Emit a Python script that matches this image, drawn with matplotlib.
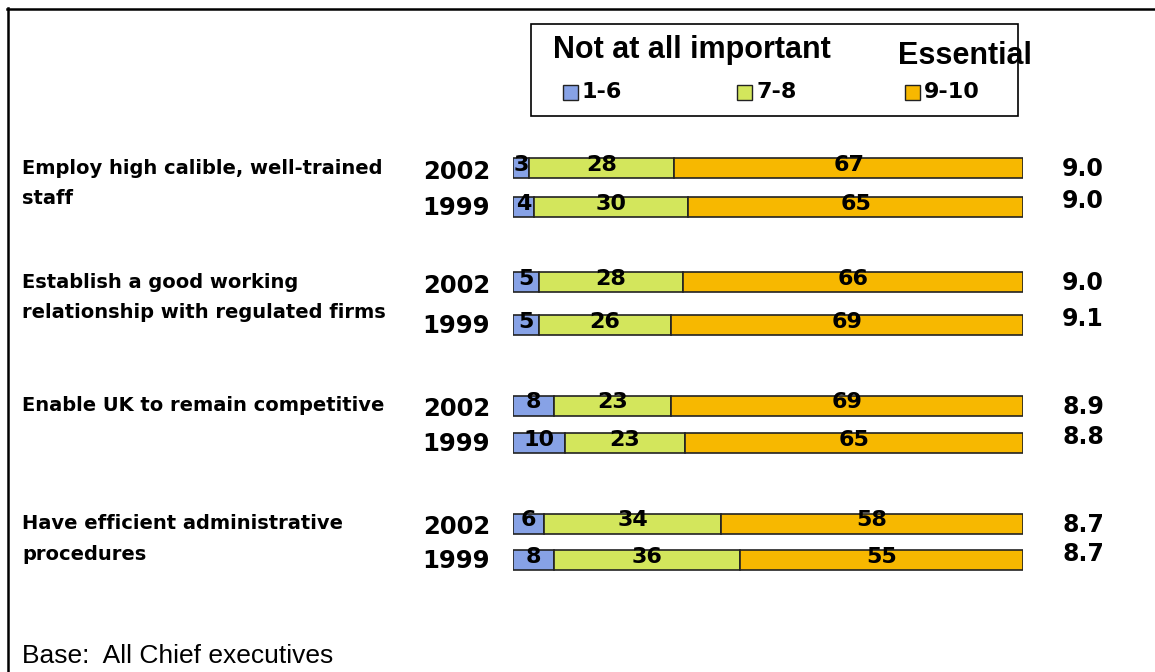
import matplotlib.pyplot as plt
from matplotlib.patches import Rectangle
from matplotlib.lines import Line2D

plt.rcParams['font.family'] = ['Liberation Sans', 'DejaVu Sans']
WIDE = ['DejaVu Sans']  # wider bold face for the spaced-out labels

# survey data: share of chief executives giving each importance score
categories = [
    "Employ high calible, well-trained\nstaff",
    "Establish a good working\nrelationship with regulated firms",
    "Enable UK to remain competitive",
    "Have efficient administrative\nprocedures",
]
years = ["2002", "1999"]
low_2002 = [3, 5, 8, 6]
mid_2002 = [28, 28, 23, 34]
high_2002 = [67, 66, 69, 58]
low_1999 = [4, 5, 10, 8]
mid_1999 = [30, 26, 23, 36]
high_1999 = [65, 69, 65, 55]
mean_2002 = [9.0, 9.0, 8.9, 8.7]
mean_1999 = [9.0, 9.1, 8.8, 8.7]
bands = ["1-6", "7-8", "9-10"]

colors = ["#87A2E6", "#D3E65C", "#F7B800"]

W, H = 1155, 672
fig = plt.figure(figsize=(W / 100, H / 100), dpi=100)


def fx(x):
    return x / W


def fy(y):
    return 1 - y / H


# row centres in pixels from the top
y_2002 = [168, 282, 405.5, 523.5]
y_1999 = [207, 325, 443, 560]
bar_h = 20

ax = fig.add_axes([fx(513), 0, fx(510), 1])
ax.set_xlim(0, 100)
ax.set_ylim(H, 0)
ax.axis("off")

rows = []
for i in range(len(categories)):
    rows.append((y_2002[i], [low_2002[i], mid_2002[i], high_2002[i]]))
    rows.append((y_1999[i], [low_1999[i], mid_1999[i], high_1999[i]]))

for yc, vals in rows:
    total = sum(vals)
    left = 0
    for v, c in zip(vals, colors):
        w = v / total * 100
        ax.barh(yc, w, left=left, height=bar_h, color=c,
                edgecolor="#222222", linewidth=1.2)
        ax.text(left + w / 2, yc - 3, str(v), ha="center", va="center",
                fontsize=16, fontweight="bold", color="black", family=WIDE)
        left += w

# category and year labels, mean scores on the right
for i, cat in enumerate(categories):
    lines = cat.split("\n")
    fig.text(fx(22), fy(y_2002[i] + 0), lines[0], ha="left", va="center",
             fontsize=14, fontweight="bold", family=WIDE)
    if len(lines) > 1:
        fig.text(fx(22), fy(y_2002[i] + 31), lines[1], ha="left", va="center",
                 fontsize=14, fontweight="bold", family=WIDE)
    fig.text(fx(490), fy(y_2002[i] + 4), years[0], ha="right", va="center",
             fontsize=17.5, fontweight="bold", family=WIDE)
    fig.text(fx(490), fy(y_1999[i] + 1), years[1], ha="right", va="center",
             fontsize=17.5, fontweight="bold", family=WIDE)
    fig.text(fx(1062), fy(y_2002[i] + 1), f"{mean_2002[i]:.1f}", ha="left",
             va="center", fontsize=17, fontweight="bold", family=WIDE)
    fig.text(fx(1062), fy(y_1999[i] - 6), f"{mean_1999[i]:.1f}", ha="left",
             va="center", fontsize=17, fontweight="bold", family=WIDE)

# legend box
fig.patches.append(Rectangle((fx(531), fy(116)), fx(487), 92 / H,
                             transform=fig.transFigure, fill=False,
                             edgecolor="black", linewidth=1.2))
fig.text(fx(553), fy(50), "Not at all important", ha="left", va="center",
         fontsize=22, fontweight="bold")
fig.text(fx(1032), fy(56), "Essential", ha="right", va="center",
         fontsize=22, fontweight="bold")
for xs, lab, c in zip([563, 737, 905], bands, colors):
    fig.patches.append(Rectangle((fx(xs), fy(100)), fx(15), 15 / H,
                                 transform=fig.transFigure, facecolor=c,
                                 edgecolor="#222222", linewidth=1))
    fig.text(fx(xs + 19), fy(92), lab, ha="left", va="center",
             fontsize=16, fontweight="bold", family=WIDE)

fig.text(fx(22), fy(656), "Base:  All Chief executives", ha="left",
         va="center", fontsize=19)

# frame lines along the top and left
fig.lines.append(Line2D([fx(7), 1], [fy(8.5), fy(8.5)], transform=fig.transFigure,
                        color="black", linewidth=1.8))
fig.lines.append(Line2D([fx(7.5), fx(7.5)], [0, fy(8)], transform=fig.transFigure,
                        color="black", linewidth=1.8))

fig.savefig("out.png", dpi=100)
